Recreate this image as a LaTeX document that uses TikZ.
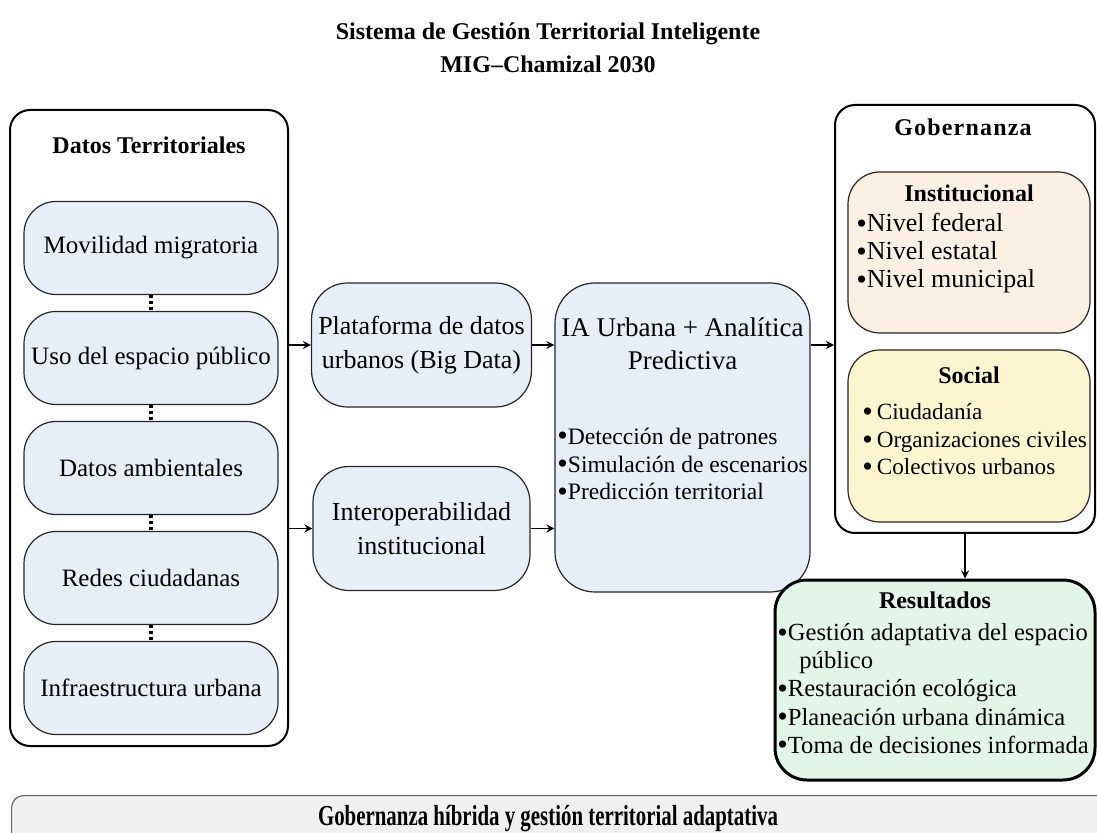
\documentclass[tikz,border=0pt]{standalone}
\usepackage{fontspec}
\usepackage{graphicx}
\setmainfont{Liberation Serif}
\usetikzlibrary{arrows}
\definecolor{databg}{RGB}{232,238,248}
\definecolor{instbg}{RGB}{252,240,226}
\definecolor{socbg}{RGB}{253,245,207}
\definecolor{resbg}{RGB}{226,245,233}
\definecolor{bargray}{RGB}{240,240,240}
\newcommand{\bul}{\smash{\raisebox{-0.8pt}{\fontsize{15}{15}\selectfont•}}}
\tikzstyle{panel} = [rectangle, rounded corners=10pt, draw=black, line width=1pt]
\tikzstyle{databox} = [rectangle, rounded corners=16pt, minimum width=127pt, minimum height=46.5pt, text centered, draw=black!85, line width=0.6pt, fill=databg, font=\fontsize{12.5}{15}\selectfont]
\tikzstyle{midbox} = [rectangle, rounded corners=18pt, minimum width=108.5pt, minimum height=62pt, align=center, draw=black!85, line width=0.6pt, fill=databg, font=\fontsize{13}{17}\selectfont]
\tikzstyle{subbox} = [rectangle, rounded corners=16pt, minimum width=121pt, draw=black!85, line width=0.6pt]
\tikzstyle{head} = [font=\bfseries\fontsize{12}{14}\selectfont]
\tikzstyle{list} = [anchor=west, align=left, inner sep=0pt]
\tikzstyle{arrow} = [thick,->,>=stealth]
\tikzstyle{dots} = [line width=1.8pt, dash pattern=on 1.6pt off 1.3pt]

\begin{document}
\begin{tikzpicture}[x=0.5pt, y=0.5pt, node distance=55pt]
        \useasboundingbox (0,0) rectangle (1097,-833);
        \clip (0,0) rectangle (1097,-833);
        \node (title) at (548,-48) [align=center, font=\bfseries\fontsize{12}{16.5}\selectfont] {Sistema de Gestión Territorial Inteligente\\MIG–Chamizal 2030};

        % datos territoriales
        \node (datos) [panel, minimum width=139pt, minimum height=318pt] at (149,-428) {};
        \node (datosT) [head] at (149,-145) {Datos Territoriales};
        \node (mov) [databox] at (151,-248) {Movilidad migratoria};
        \node (uso) [databox, below of=mov] {Uso del espacio público};
        \node (amb) [databox, below of=uso] {Datos ambientales};
        \node (red) [databox, below of=amb] {Redes ciudadanas};
        \node (inf) [databox, below of=red] {Infraestructura urbana};
        \draw [dots] (mov) -- (uso);
        \draw [dots] (uso) -- (amb);
        \draw [dots] (amb) -- (red);
        \draw [dots] (red) -- (inf);

        % plataforma e IA
        \node (plat) [midbox] at (421.5,-345) {Plataforma de datos\\urbanos (Big Data)};
        \node (inter) [midbox, below of=plat, node distance=91.75pt] {Interoperabilidad\\institucional};
        \node (ia) [midbox, rounded corners=20pt, minimum width=127.5pt, minimum height=154.5pt] at (682.5,-437.5) {};
        \node (iaT) [align=center, font=\fontsize{13.5}{16.5}\selectfont] at (682.5,-343.5) {IA Urbana + Analítica\\Predictiva};
        \node (iaL) [list, font=\fontsize{11.8}{13.9}\selectfont] at (557,-464) {\bul Detección de patrones\\\bul Simulación de escenarios\\\bul Predicción territorial};
        \draw [arrow] (datos.east |- plat) -- (plat);
        \draw [arrow] (datos.east |- inter) -- (inter);
        \draw [arrow] (plat) -- (plat -| ia.west);
        \draw [arrow] (inter) -- (inter -| ia.west);

        % gobernanza
        \node (gob) [panel, minimum width=130pt, minimum height=214pt] at (965,-319) {};
        \node (gobT) [font=\bfseries\fontsize{12}{14}\selectfont\addfontfeature{LetterSpace=5}] at (963,-127) {Gobernanza};
        \node (inst) [subbox, fill=instbg, minimum height=80.5pt] at (969,-252.5) {};
        \node (instT) [head] at (969,-193) {Institucional};
        \node (instL) [list, font=\fontsize{13}{14}\selectfont] at (856,-253.5) {\bul Nivel federal\\\bul Nivel estatal\\\bul Nivel municipal};
        \node (soc) [subbox, fill=socbg, minimum height=86pt] at (969,-436) {};
        \node (socT) [head] at (969,-375) {Social};
        \node (socL) [list, font=\fontsize{11.6}{13.75}\selectfont] at (862,-439.5) {\bul\,Ciudadanía\\\bul\,Organizaciones civiles\\\bul\,Colectivos urbanos};
        \draw [arrow] (ia.east |- plat) -- (gob.west |- plat);

        % resultados
        \node (res) [subbox, fill=resbg, draw=black, line width=1.5pt, minimum width=160pt, minimum height=100pt] at (935,-680) {};
        \node (resT) [head] at (935,-600) {Resultados};
        \node (resL) [list, font=\fontsize{12.3}{14.1}\selectfont] at (777,-688.5) {\bul Gestión adaptativa del espacio\\\hspace*{11pt}público\\\bul Restauración ecológica\\\bul Planeación urbana dinámica\\\bul Toma de decisiones informada};
        \draw [arrow] (gob.south) -- (gob.south |- res.north);

        % barra inferior
        \node (bar) [rectangle, rounded corners=6pt, draw=gray!80!black, line width=0.6pt, fill=bargray, minimum width=560pt, minimum height=40pt, anchor=north west] at (11,-795) {};
        \node (barT) [font=\bfseries\fontsize{14.5}{16}\selectfont] at (548,-819) {\scalebox{0.72}[1]{Gobernanza híbrida y gestión territorial adaptativa}};
\end{tikzpicture}
\end{document}
